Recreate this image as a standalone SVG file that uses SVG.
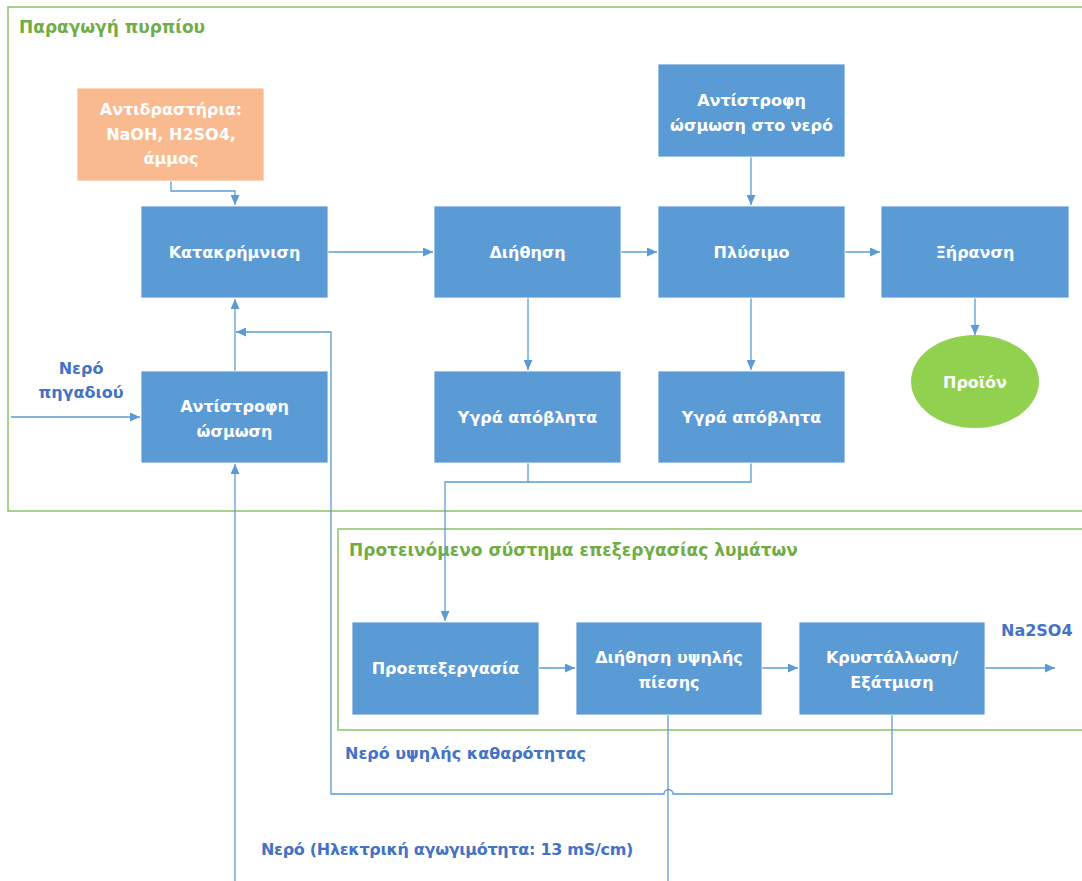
<svg xmlns="http://www.w3.org/2000/svg" width="1082" height="881" viewBox="0 0 1082 881">
  <defs>
    <marker id="arrow" viewBox="0 0 10 9" refX="10" refY="4.5" markerWidth="10" markerHeight="9" markerUnits="userSpaceOnUse" orient="auto">
      <path d="M0,0 L10,4.5 L0,9 Z" fill="#5B9BD5"/>
    </marker>
    <style>
      text { font-family: "DejaVu Sans", "Liberation Sans", sans-serif; font-weight: bold; }
      .frame { fill: none; stroke: #8CC26A; stroke-width: 1.5; }
      .ftitle { fill: #70AD47; font-size: 17px; }
      .box { fill: #5B9BD5; stroke: #ffffff; stroke-width: 0.8; }
      .reag { fill: #FABA8F; stroke: #ffffff; stroke-width: 0.8; }
      .prod { fill: #92D050; }
      .lbl { fill: #ffffff; font-size: 16px; text-anchor: middle; }
      .note { fill: #4472C4; font-size: 16px; }
      .conn { fill: none; stroke: #5B9BD5; stroke-width: 1.3; }
    </style>
  </defs>

  <rect width="1082" height="881" fill="#ffffff"/>

  <!-- plant frame -->
  <g id="plant-frame">
    <path class="frame" d="M1090,7 L8,7 L8,511 L1090,511"/>
    <text class="ftitle" x="19" y="33">Παραγωγή πυρπίου</text>
  </g>

  <!-- wastewater treatment frame -->
  <g id="treatment-frame">
    <path class="frame" d="M1090,529 L338,529 L338,730 L1090,730"/>
    <text class="ftitle" x="349" y="556">Προτεινόμενο σύστημα επεξεργασίας λυμάτων</text>
  </g>

  <!-- connectors -->
  <g id="connectors">
    <path class="conn" d="M171,181 V191 H235 V205" marker-end="url(#arrow)"/>
    <path class="conn" d="M328,252 H433" marker-end="url(#arrow)"/>
    <path class="conn" d="M621,252 H657" marker-end="url(#arrow)"/>
    <path class="conn" d="M845,252 H880" marker-end="url(#arrow)"/>
    <path class="conn" d="M751,157 V205" marker-end="url(#arrow)"/>
    <path class="conn" d="M975,298 V335" marker-end="url(#arrow)"/>
    <path class="conn" d="M528,298 V370" marker-end="url(#arrow)"/>
    <path class="conn" d="M751,298 V370" marker-end="url(#arrow)"/>
    <path class="conn" d="M11,417 H140" marker-end="url(#arrow)"/>
    <path class="conn" d="M235,371 V299" marker-end="url(#arrow)"/>
    <path class="conn" d="M235,881 V464" marker-end="url(#arrow)"/>
    <path class="conn" d="M528,463 V482 H445 V621" marker-end="url(#arrow)"/>
    <path class="conn" d="M751,463 V482 H528"/>
    <path class="conn" d="M539,668 H575" marker-end="url(#arrow)"/>
    <path class="conn" d="M762,668 H798" marker-end="url(#arrow)"/>
    <path class="conn" d="M985,668 H1055" marker-end="url(#arrow)"/>
    <path class="conn" d="M668,715 V881"/>
    <!-- high purity water return line, hopping over the filtrate line -->
    <path class="conn" d="M892,715 V794 H673 A4.5,4.5 0 0 0 664,794 H331 V332 H236" marker-end="url(#arrow)"/>
  </g>

  <!-- nodes -->
  <g id="reagents">
    <rect class="reag" x="77" y="88" width="187" height="93"/>
    <text class="lbl" x="171" y="115">Αντιδραστήρια:</text>
    <text class="lbl" x="171" y="140">NaOH, H2SO4,</text>
    <text class="lbl" x="171" y="164">άμμος</text>
  </g>
  <g id="precipitation">
    <rect class="box" x="141" y="206" width="187" height="92"/>
    <text class="lbl" x="234.5" y="258">Κατακρήμνιση</text>
  </g>
  <g id="filtration">
    <rect class="box" x="434" y="206" width="187" height="92"/>
    <text class="lbl" x="527.5" y="258">Διήθηση</text>
  </g>
  <g id="washing">
    <rect class="box" x="658" y="206" width="187" height="92"/>
    <text class="lbl" x="751.5" y="258">Πλύσιμο</text>
  </g>
  <g id="drying">
    <rect class="box" x="881" y="206" width="188" height="92"/>
    <text class="lbl" x="975" y="258">Ξήρανση</text>
  </g>
  <g id="ro-water">
    <rect class="box" x="658" y="64" width="187" height="93"/>
    <text class="lbl" x="751.5" y="106">Αντίστροφη</text>
    <text class="lbl" x="751.5" y="131">ώσμωση στο νερό</text>
  </g>
  <g id="ro">
    <rect class="box" x="141" y="371" width="187" height="92"/>
    <text class="lbl" x="234.5" y="412">Αντίστροφη</text>
    <text class="lbl" x="234.5" y="437">ώσμωση</text>
  </g>
  <g id="wastewater-1">
    <rect class="box" x="434" y="371" width="187" height="92"/>
    <text class="lbl" x="527.5" y="423">Υγρά απόβλητα</text>
  </g>
  <g id="wastewater-2">
    <rect class="box" x="658" y="371" width="187" height="92"/>
    <text class="lbl" x="751.5" y="423">Υγρά απόβλητα</text>
  </g>
  <g id="product">
    <ellipse class="prod" cx="975" cy="381.5" rx="64" ry="46.5"/>
    <text class="lbl" x="975" y="388">Προϊόν</text>
  </g>
  <g id="pretreatment">
    <rect class="box" x="352" y="622" width="187" height="93"/>
    <text class="lbl" x="445.5" y="674">Προεπεξεργασία</text>
  </g>
  <g id="hp-filtration">
    <rect class="box" x="576" y="622" width="186" height="93"/>
    <text class="lbl" x="669" y="663">Διήθηση υψηλής</text>
    <text class="lbl" x="669" y="688">πίεσης</text>
  </g>
  <g id="crystallisation">
    <rect class="box" x="799" y="622" width="186" height="93"/>
    <text class="lbl" x="892" y="663">Κρυστάλλωση/</text>
    <text class="lbl" x="892" y="688">Εξάτμιση</text>
  </g>

  <!-- stream labels -->
  <g id="labels">
    <text class="note" x="81" y="374" text-anchor="middle">Νερό</text>
    <text class="note" x="81" y="398" text-anchor="middle">πηγαδιού</text>
    <text class="note" x="1001" y="636">Na2SO4</text>
    <text class="note" x="345" y="759">Νερό υψηλής καθαρότητας</text>
    <text class="note" x="261" y="855" letter-spacing="-0.3">Νερό (Ηλεκτρική αγωγιμότητα: 13 mS/cm)</text>
  </g>
</svg>
